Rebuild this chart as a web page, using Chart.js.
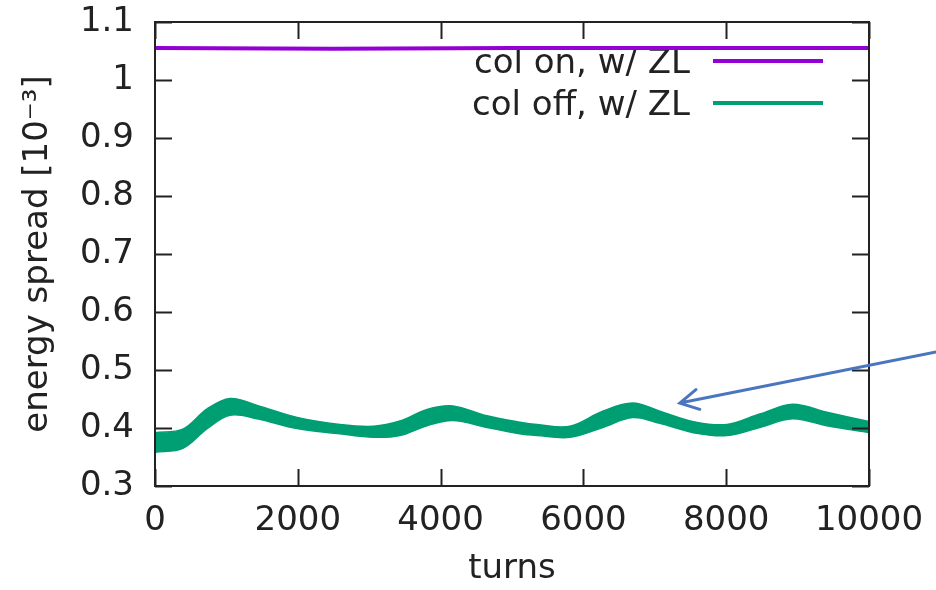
<!DOCTYPE html>
<html lang="en">
<head>
    <meta charset="UTF-8">
    <title>energy spread vs turns</title>
    <script src="https://cdn.jsdelivr.net/npm/chart.js"></script>
    <style>
        body { margin: 0; background: #fff; }
        #wrap { width: 936px; height: 590px; position: relative; }
    </style>
</head>
<body>
    <div id="wrap"><canvas id="spreadChart"></canvas></div>
    <script>
    // tick values
    const xTicks = [0, 2000, 4000, 6000, 8000, 10000];
    const yTicks = [0.3, 0.4, 0.5, 0.6, 0.7, 0.8, 0.9, 1.0, 1.1];

    // col on, w/ ZL (flat)
    const onTurns = [0, 2500, 5000, 7500, 10000];
    const onSpread = [1.055, 1.054, 1.055, 1.055, 1.055];

    // col off, w/ ZL : upper and lower edge of the noisy band
    const offTurns = [0, 390, 730, 1050, 1430, 1990, 2590, 3060, 3430, 3810, 4170, 4650, 5110, 5350, 5810, 6270, 6690, 7070, 7540, 8010, 8470, 8930, 9410, 10000];
    const offUpper = [0.392, 0.398, 0.433, 0.451, 0.439, 0.418, 0.406, 0.403, 0.412, 0.432, 0.438, 0.421, 0.410, 0.406, 0.403, 0.429, 0.443, 0.429, 0.411, 0.406, 0.424, 0.441, 0.427, 0.411];
    const offLower = [0.358, 0.365, 0.399, 0.422, 0.416, 0.399, 0.390, 0.384, 0.387, 0.404, 0.413, 0.401, 0.390, 0.387, 0.384, 0.401, 0.418, 0.408, 0.392, 0.387, 0.401, 0.416, 0.404, 0.392];

    const legendLabels = ['col on, w/ ZL', 'col off, w/ ZL'];
    const legendColors = ['#9400d3', '#009e73'];

    // annotation arrow (data coords: turns, spread)
    const arrowFrom = [10940, 0.531];
    const arrowTo = [7350, 0.443];

    const FONT = '"DejaVu Sans", sans-serif';
    const FSIZE = 34;

    function pts(xs, ys) {
        return xs.map((x, i) => ({ x: x, y: ys[i] }));
    }

    // frame + inside ticks on all four sides (gnuplot style)
    const framePlugin = {
        id: 'frame',
        afterDatasetsDraw(chart) {
            const { ctx, chartArea: a, scales } = chart;
            const tl = 17;
            ctx.save();
            ctx.strokeStyle = '#222';
            ctx.lineWidth = 2;
            ctx.beginPath();
            xTicks.forEach(v => {
                const px = Math.round(scales.x.getPixelForValue(v)) + 0.5;
                ctx.moveTo(px, a.bottom); ctx.lineTo(px, a.bottom - tl);
                ctx.moveTo(px, a.top); ctx.lineTo(px, a.top + tl);
            });
            yTicks.forEach(v => {
                const py = Math.round(scales.y.getPixelForValue(v)) + 0.5;
                ctx.moveTo(a.left, py); ctx.lineTo(a.left + tl, py);
                ctx.moveTo(a.right, py); ctx.lineTo(a.right - tl, py);
            });
            ctx.stroke();
            ctx.strokeRect(a.left, a.top, a.right - a.left, a.bottom - a.top);
            ctx.restore();
        }
    };

    // key drawn inside plot: text right aligned, sample line after it
    const keyPlugin = {
        id: 'key',
        beforeDatasetsDraw(chart) {
            const ctx = chart.ctx;
            ctx.save();
            ctx.font = FSIZE + 'px ' + FONT;
            ctx.textAlign = 'right';
            ctx.textBaseline = 'middle';
            legendLabels.forEach((lab, i) => {
                const y = 64 + i * 42;
                ctx.fillStyle = '#222';
                ctx.fillText(lab, 690, y);
                ctx.strokeStyle = legendColors[i];
                ctx.lineWidth = 4;
                ctx.beginPath();
                ctx.moveTo(713, y - 3);
                ctx.lineTo(823, y - 3);
                ctx.stroke();
            });
            ctx.restore();
        }
    };

    const arrowPlugin = {
        id: 'arrow',
        afterDraw(chart) {
            const { ctx, scales } = chart;
            const x0 = scales.x.getPixelForValue(arrowFrom[0]);
            const y0 = scales.y.getPixelForValue(arrowFrom[1]);
            const x1 = scales.x.getPixelForValue(arrowTo[0]);
            const y1 = scales.y.getPixelForValue(arrowTo[1]);
            const ang = Math.atan2(y0 - y1, x0 - x1);
            const len = 21, spread = 0.5;
            ctx.save();
            ctx.strokeStyle = '#4a76c0';
            ctx.lineWidth = 3;
            ctx.lineCap = 'round';
            ctx.beginPath();
            ctx.moveTo(x0, y0);
            ctx.lineTo(x1, y1);
            ctx.moveTo(x1 + len * Math.cos(ang - spread), y1 + len * Math.sin(ang - spread));
            ctx.lineTo(x1, y1);
            ctx.lineTo(x1 + len * Math.cos(ang + spread), y1 + len * Math.sin(ang + spread));
            ctx.stroke();
            ctx.restore();
        }
    };

    new Chart(document.getElementById('spreadChart'), {
        type: 'line',
        data: {
            datasets: [
                {
                    label: legendLabels[1] + ' low',
                    data: pts(offTurns, offLower),
                    borderColor: legendColors[1],
                    borderWidth: 1.5,
                    pointRadius: 0,
                    tension: 0.35,
                    fill: false
                },
                {
                    label: legendLabels[1],
                    data: pts(offTurns, offUpper),
                    borderColor: legendColors[1],
                    backgroundColor: legendColors[1],
                    borderWidth: 1.5,
                    pointRadius: 0,
                    tension: 0.35,
                    fill: '-1'
                },
                {
                    label: legendLabels[0],
                    data: pts(onTurns, onSpread),
                    borderColor: legendColors[0],
                    borderWidth: 4,
                    pointRadius: 0,
                    fill: false
                }
            ]
        },
        options: {
            responsive: true,
            maintainAspectRatio: false,
            animation: false,
            layout: { padding: { left: 0, top: 22, right: 67, bottom: 0 } },
            plugins: { legend: { display: false }, tooltip: { enabled: false } },
            scales: {
                x: {
                    type: 'linear',
                    min: 0,
                    max: 10000,
                    afterBuildTicks: s => { s.ticks = xTicks.map(v => ({ value: v })); },
                    afterFit: s => { s.height = 104; s.paddingLeft = 0; s.paddingRight = 0; },
                    grid: { display: false, drawTicks: false },
                    border: { display: false },
                    ticks: {
                        padding: 15,
                        maxRotation: 0,
                        color: '#222',
                        font: { family: FONT, size: FSIZE },
                        callback: v => String(v)
                    },
                    title: {
                        display: true,
                        text: 'turns',
                        color: '#222',
                        font: { family: FONT, size: FSIZE },
                        padding: { top: 8, bottom: 0 }
                    }
                },
                y: {
                    min: 0.3,
                    max: 1.1,
                    afterBuildTicks: s => { s.ticks = yTicks.map(v => ({ value: v })); },
                    afterFit: s => { s.width = 155; s.paddingTop = 0; s.paddingBottom = 0; },
                    grid: { display: false, drawTicks: false },
                    border: { display: false },
                    ticks: {
                        padding: 21,
                        color: '#222',
                        font: { family: FONT, size: FSIZE },
                        callback: v => String(v)
                    },
                    title: {
                        display: true,
                        text: 'energy spread [10⁻³]',
                        color: '#222',
                        font: { family: FONT, size: FSIZE },
                        padding: { top: 18, bottom: 0 }
                    }
                }
            }
        },
        plugins: [keyPlugin, framePlugin, arrowPlugin]
    });
    </script>
</body>
</html>
